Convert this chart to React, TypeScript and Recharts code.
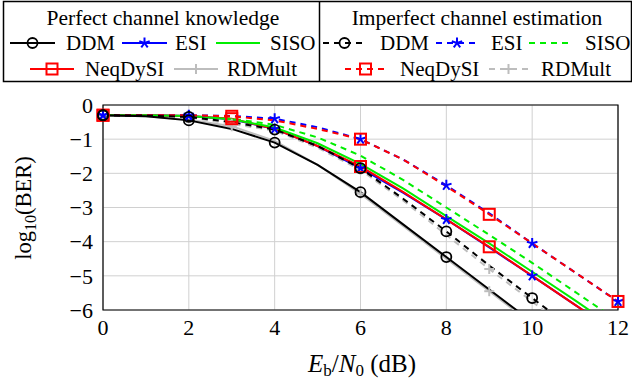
import React from 'react';
import { LineChart, Line, XAxis, YAxis, CartesianGrid, ReferenceArea } from 'recharts';

const snr = [0, 1, 2, 3, 4, 5, 6, 7, 8, 9, 10, 11, 12];

// perfect channel knowledge
const ddmP = [-0.3, -0.33, -0.45, -0.7, -1.1, -1.75, -2.55, -3.5, -4.45, -5.4, -6.35, -7.3, -8.25];
const esiP = [-0.3, -0.3, -0.32, -0.42, -0.7, -1.2, -1.85, -2.57, -3.35, -4.17, -5.0, -5.85, -6.7];
const sisoP = [-0.3, -0.3, -0.32, -0.42, -0.66, -1.12, -1.72, -2.45, -3.25, -4.05, -4.88, -5.72, -6.58];
const neqP = [-0.3, -0.3, -0.32, -0.4, -0.7, -1.2, -1.8, -2.55, -3.35, -4.15, -5.0, -5.85, -6.7];
const rdmP = [-0.3, -0.33, -0.43, -0.62, -1.05, -1.75, -2.6, -3.55, -4.5, -5.45, -6.4, -7.35, -8.3];

// imperfect channel estimation
const ddmI = [-0.3, -0.31, -0.35, -0.5, -0.72, -1.2, -1.85, -2.75, -3.7, -4.7, -5.65, -6.6, -7.55];
const esiI = [-0.3, -0.3, -0.3, -0.32, -0.4, -0.65, -1.0, -1.6, -2.35, -3.17, -4.05, -4.9, -5.75];
const sisoI = [-0.3, -0.3, -0.32, -0.4, -0.58, -0.95, -1.48, -2.2, -3.0, -3.8, -4.62, -5.47, -6.32];
const neqI = [-0.3, -0.3, -0.3, -0.33, -0.45, -0.7, -1.0, -1.6, -2.38, -3.2, -4.05, -4.9, -5.75];
const rdmI = [-0.3, -0.31, -0.36, -0.55, -0.75, -1.25, -1.9, -2.8, -3.8, -4.8, -5.75, -6.7, -7.65];

const xTicks = [0, 2, 4, 6, 8, 10, 12];
const yTicks = [-6, -5, -4, -3, -2, -1, 0];

const data = snr.map((x, i) => ({
  x,
  ddmP: ddmP[i], esiP: esiP[i], sisoP: sisoP[i], neqP: neqP[i], rdmP: rdmP[i],
  ddmI: ddmI[i], esiI: esiI[i], sisoI: sisoI[i], neqI: neqI[i], rdmI: rdmI[i],
}));

const BLACK = '#000000';
const BLUE = '#0000ff';
const GREEN = '#00ee00';
const RED = '#ff0000';
const GRAY = '#bdbdbd';
const FONT = "'Liberation Serif', 'DejaVu Serif', serif";
const DASH = '6 5';
const serif = { fontFamily: FONT };

type Shape = 'circle' | 'star' | 'square' | 'plus' | 'none';

const Marker = ({ shape, cx, cy, color }: { shape: Shape; cx: number; cy: number; color: string }) => {
  if (shape === 'circle') return <circle cx={cx} cy={cy} r={5} fill="none" stroke={color} strokeWidth={1.8} />;
  if (shape === 'square') return <rect x={cx - 5.5} y={cy - 5.5} width={11} height={11} fill="none" stroke={color} strokeWidth={2} />;
  if (shape === 'plus')
    return (
      <g stroke={color} strokeWidth={2}>
        <line x1={cx - 5} y1={cy} x2={cx + 5} y2={cy} />
        <line x1={cx} y1={cy - 5} x2={cx} y2={cy + 5} />
      </g>
    );
  if (shape === 'star')
    return (
      <g stroke={color} strokeWidth={2}>
        {[-90, -18, 54, 126, 198].map((a) => (
          <line key={a} x1={cx} y1={cy} x2={cx + 5.5 * Math.cos((a * Math.PI) / 180)} y2={cy + 5.5 * Math.sin((a * Math.PI) / 180)} />
        ))}
      </g>
    );
  return null;
};

const makeDot = (shape: Shape, color: string, at: number[]) => (props: any) => {
  const { cx, cy, payload, index } = props;
  if (!at.includes(payload.x) || cx == null || cy == null) return <g key={index} />;
  return (
    <g key={index}>
      <Marker shape={shape} cx={cx} cy={cy} color={color} />
    </g>
  );
};

const even = [0, 2, 4, 6, 8, 10, 12];
const third = [0, 3, 6, 9, 12];

const series = [
  { key: 'rdmP', color: GRAY, shape: 'plus' as Shape, at: third, dash: undefined },
  { key: 'rdmI', color: GRAY, shape: 'plus' as Shape, at: third, dash: DASH },
  { key: 'sisoI', color: GREEN, shape: 'none' as Shape, at: [], dash: DASH },
  { key: 'esiP', color: BLUE, shape: 'star' as Shape, at: even, dash: undefined },
  { key: 'neqP', color: RED, shape: 'square' as Shape, at: third, dash: undefined },
  { key: 'sisoP', color: GREEN, shape: 'none' as Shape, at: [], dash: undefined },
  { key: 'esiI', color: BLUE, shape: 'star' as Shape, at: even, dash: DASH },
  { key: 'neqI', color: RED, shape: 'square' as Shape, at: third, dash: DASH },
  { key: 'ddmI', color: BLACK, shape: 'circle' as Shape, at: even, dash: DASH },
  { key: 'ddmP', color: BLACK, shape: 'circle' as Shape, at: even, dash: undefined },
];

const LegendItem = ({ x1, x2, y, color, shape, dash, label, tx }: any) => (
  <g>
    <line x1={x1} y1={y} x2={x2} y2={y} stroke={color} strokeWidth={2} strokeDasharray={dash} />
    <Marker shape={shape} cx={(x1 + x2) / 2} cy={y} color={color} />
    <text x={tx} y={y + 7} fontSize={21} style={serif} fill="#000">{label}</text>
  </g>
);

const LegendBox = () => (
  <svg width={632} height={86} style={{ position: 'absolute', left: 0, top: 0 }}>
    <rect x={3.5} y={1.5} width={628} height={80} fill="#fff" stroke="#000" strokeWidth={1.5} />
    <line x1={319.5} y1={1.5} x2={319.5} y2={81.5} stroke="#000" strokeWidth={1.5} />
    <text x={163} y={25} textAnchor="middle" fontSize={21.5} style={serif}>Perfect channel knowledge</text>
    <LegendItem x1={10} x2={55} y={43} color={BLACK} shape="circle" label="DDM" tx={66} />
    <LegendItem x1={122} x2={167} y={43} color={BLUE} shape="star" label="ESI" tx={175} />
    <LegendItem x1={216} x2={260} y={43} color={GREEN} shape="none" label="SISO" tx={270} />
    <LegendItem x1={30} x2={74} y={69} color={RED} shape="square" label="NeqDySI" tx={85} />
    <LegendItem x1={174} x2={218} y={69} color={GRAY} shape="plus" label="RDMult" tx={227} />
    <text x={477} y={25} textAnchor="middle" fontSize={21.5} style={serif}>Imperfect channel estimation</text>
    <LegendItem x1={323} x2={366} y={43} color={BLACK} shape="circle" dash={DASH} label="DDM" tx={380} />
    <LegendItem x1={436} x2={478} y={43} color={BLUE} shape="star" dash={DASH} label="ESI" tx={491} />
    <LegendItem x1={529} x2={571} y={43} color={GREEN} shape="none" dash={DASH} label="SISO" tx={585} />
    <LegendItem x1={345} x2={386} y={69} color={RED} shape="square" dash={DASH} label="NeqDySI" tx={400} />
    <LegendItem x1={489} x2={528} y={69} color={GRAY} shape="plus" dash={DASH} label="RDMult" tx={541} />
  </svg>
);

const fmt = (v: number) => (v < 0 ? `\u2212${-v}` : `${v}`);

const YLabel = () => (
  <text transform="translate(31,208) rotate(-90)" textAnchor="middle" fontSize={22.5} style={serif} fill="#000">
    log<tspan fontSize={16} dy={5}>10</tspan>
    <tspan dy={-5}>(BER)</tspan>
  </text>
);

const XLabel = () => (
  <text x={362} y={372} textAnchor="middle" fontSize={25} style={serif} fill="#000">
    <tspan fontStyle="italic">E</tspan>
    <tspan fontSize={17} dy={4}>b</tspan>
    <tspan dy={-4}>/</tspan>
    <tspan fontStyle="italic">N</tspan>
    <tspan fontSize={17} dy={4}>0</tspan>
    <tspan dy={-4}>{'\u00a0(dB)'}</tspan>
  </text>
);

export default function App() {
  return (
    <div style={{ position: 'absolute', left: 0, top: 0, width: 632, height: 383, background: '#fff', fontFamily: FONT }}>
      <LineChart width={632} height={383} data={data} margin={{ top: 105, right: 14, left: 0, bottom: 0 }} style={serif}>
        <CartesianGrid stroke="#d0d0d0" strokeWidth={1} horizontalValues={yTicks} verticalValues={xTicks} />
        <XAxis
          dataKey="x"
          type="number"
          domain={[0, 12]}
          ticks={xTicks}
          height={73}
          tickSize={0}
          tickMargin={9}
          axisLine={false}
          tick={{ fontSize: 22, fill: '#000', style: serif }}
          label={<XLabel />}
        />
        <YAxis
          type="number"
          domain={[-6, 0]}
          allowDataOverflow
          ticks={yTicks}
          width={103}
          tickSize={0}
          tickMargin={10}
          axisLine={false}
          tickFormatter={fmt}
          tick={{ fontSize: 22, fill: '#000', style: serif }}
          label={<YLabel />}
        />
        {series.map((s) => (
          <Line
            key={s.key}
            dataKey={s.key}
            type="linear"
            stroke={s.color}
            strokeWidth={2}
            strokeDasharray={s.dash}
            dot={makeDot(s.shape, s.color, s.at)}
            activeDot={false}
            isAnimationActive={false}
          />
        ))}
        <ReferenceArea x1={0} x2={12} y1={-6} y2={0} fill="none" stroke="#000" strokeWidth={1.2} ifOverflow="visible" />
      </LineChart>
      <LegendBox />
    </div>
  );
}
